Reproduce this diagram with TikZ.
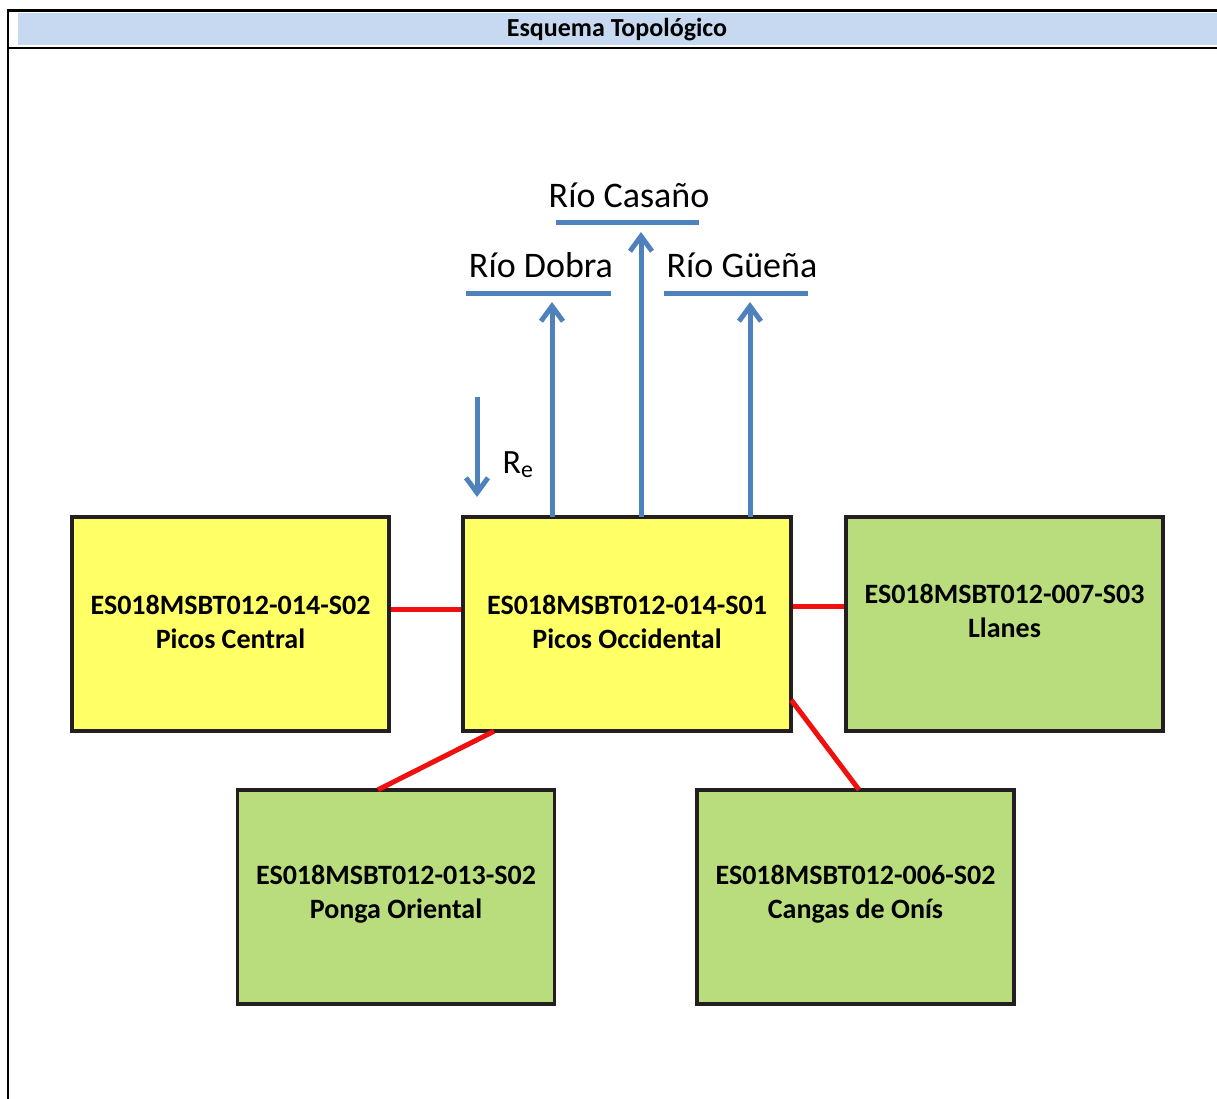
\documentclass[tikz,border=0pt]{standalone}
\usepackage{fontspec}
\setmainfont{Carlito}
\usetikzlibrary{arrows.meta,calc}
\definecolor{hdrblue}{HTML}{C6D9F1}
\definecolor{boxyellow}{HTML}{FFFF66}
\definecolor{boxgreen}{HTML}{B9DC7C}
\definecolor{riverblue}{HTML}{4F81BD}
\definecolor{linkred}{HTML}{F01010}
\definecolor{edge}{HTML}{231F20}
\begin{document}
\begin{tikzpicture}[x=1pt,y=-1pt,
  box/.style={draw=edge,line width=3.5pt,minimum width=317pt,minimum height=214pt,inner sep=0pt},
  yellowbox/.style={box,fill=boxyellow},
  greenbox/.style={box,fill=boxgreen},
  boxtext/.style={align=center,font=\fontsize{28}{34}\selectfont\bfseries},
  link/.style={draw=linkred,line width=5pt},
  river/.style={draw=riverblue,line width=5pt},
  flow/.style={river,-{Straight Barb[length=15pt,width=22pt,line width=5pt]}},
  rivername/.style={font=\fontsize{36}{40}\selectfont,inner sep=0pt},
  frame/.style={line width=2.5pt}]
\useasboundingbox (0,0) rectangle (1217,1099);

% table header
\fill[hdrblue] (18,13) rectangle (1217,45);
\node[font=\fontsize{26}{30}\selectfont\bfseries] (title) at (617,30) {Esquema Topológico};
\draw[frame] (8,10.5) -- (1217,10.5);
\draw[frame] (8,48) -- (1217,48);
\draw[frame] (8,9.5) -- (8,1099);

% water bodies
\node[yellowbox] (central) at (230.5,624) {};
\node[boxtext] (centralt) at (230.5,622) {ES018MSBT012-014-S02\\Picos Central};
\node[yellowbox,minimum width=328pt] (occ) at (627,624) {};
\node[boxtext] (occt) at (627,622) {ES018MSBT012-014-S01\\Picos Occidental};
\node[greenbox] (llanes) at (1004.5,624) {};
\node[boxtext] (llanest) at (1004.5,611) {ES018MSBT012-007-S03\\Llanes};
\node[greenbox] (ponga) at (396,897) {};
\node[boxtext] (pongat) at (396,894.5) {ES018MSBT012-013-S02\\Ponga Oriental};
\node[greenbox] (cangas) at (855.5,897) {};
\node[boxtext] (cangast) at (855.5,894.5) {ES018MSBT012-006-S02\\Cangas de Onís};

% connections between bodies
\draw[link] ([yshift=15pt]central.east) -- ([yshift=15pt]occ.west);
\draw[link] ([yshift=18pt]occ.east) -- ([yshift=18pt]llanes.west);
\draw[link] ([xshift=-133pt,yshift=1.5pt]occ.south) -- ([xshift=-18pt,yshift=-1.5pt]ponga.north);
\draw[link] ([xshift=-1.5pt,yshift=-76pt]occ.east) -- ([xshift=3.5pt,yshift=-1.5pt]cangas.north);

% rivers
\node[rivername] (casano) at (629,195) {Río Casaño};
\node[rivername] (dobra) at (541,265) {Río Dobra};
\node[rivername] (guena) at (742,265) {Río Güeña};
\draw[river] (556,223) -- (699,223);
\draw[river] (466,293) -- (611,293);
\draw[river] (664,293) -- (808,293);
\coordinate (casanoin) at (641,232);
\coordinate (dobrain) at (552,302);
\coordinate (guenain) at (750,302);
\draw[flow] ([xshift=-75pt,yshift=-1.5pt]occ.north) -- (dobrain);
\draw[flow] ([xshift=14pt,yshift=-1.5pt]occ.north) -- (casanoin);
\draw[flow] ([xshift=123pt,yshift=-1.5pt]occ.north) -- (guenain);

% recharge
\coordinate (rtop) at (477,397);
\coordinate (rbot) at (477,497);
\draw[flow] (rtop) -- (rbot);
\node[font=\fontsize{34}{40}\selectfont,inner sep=0pt] (re) at (518,465) {R\textsubscript{e}};
\end{tikzpicture}
\end{document}
